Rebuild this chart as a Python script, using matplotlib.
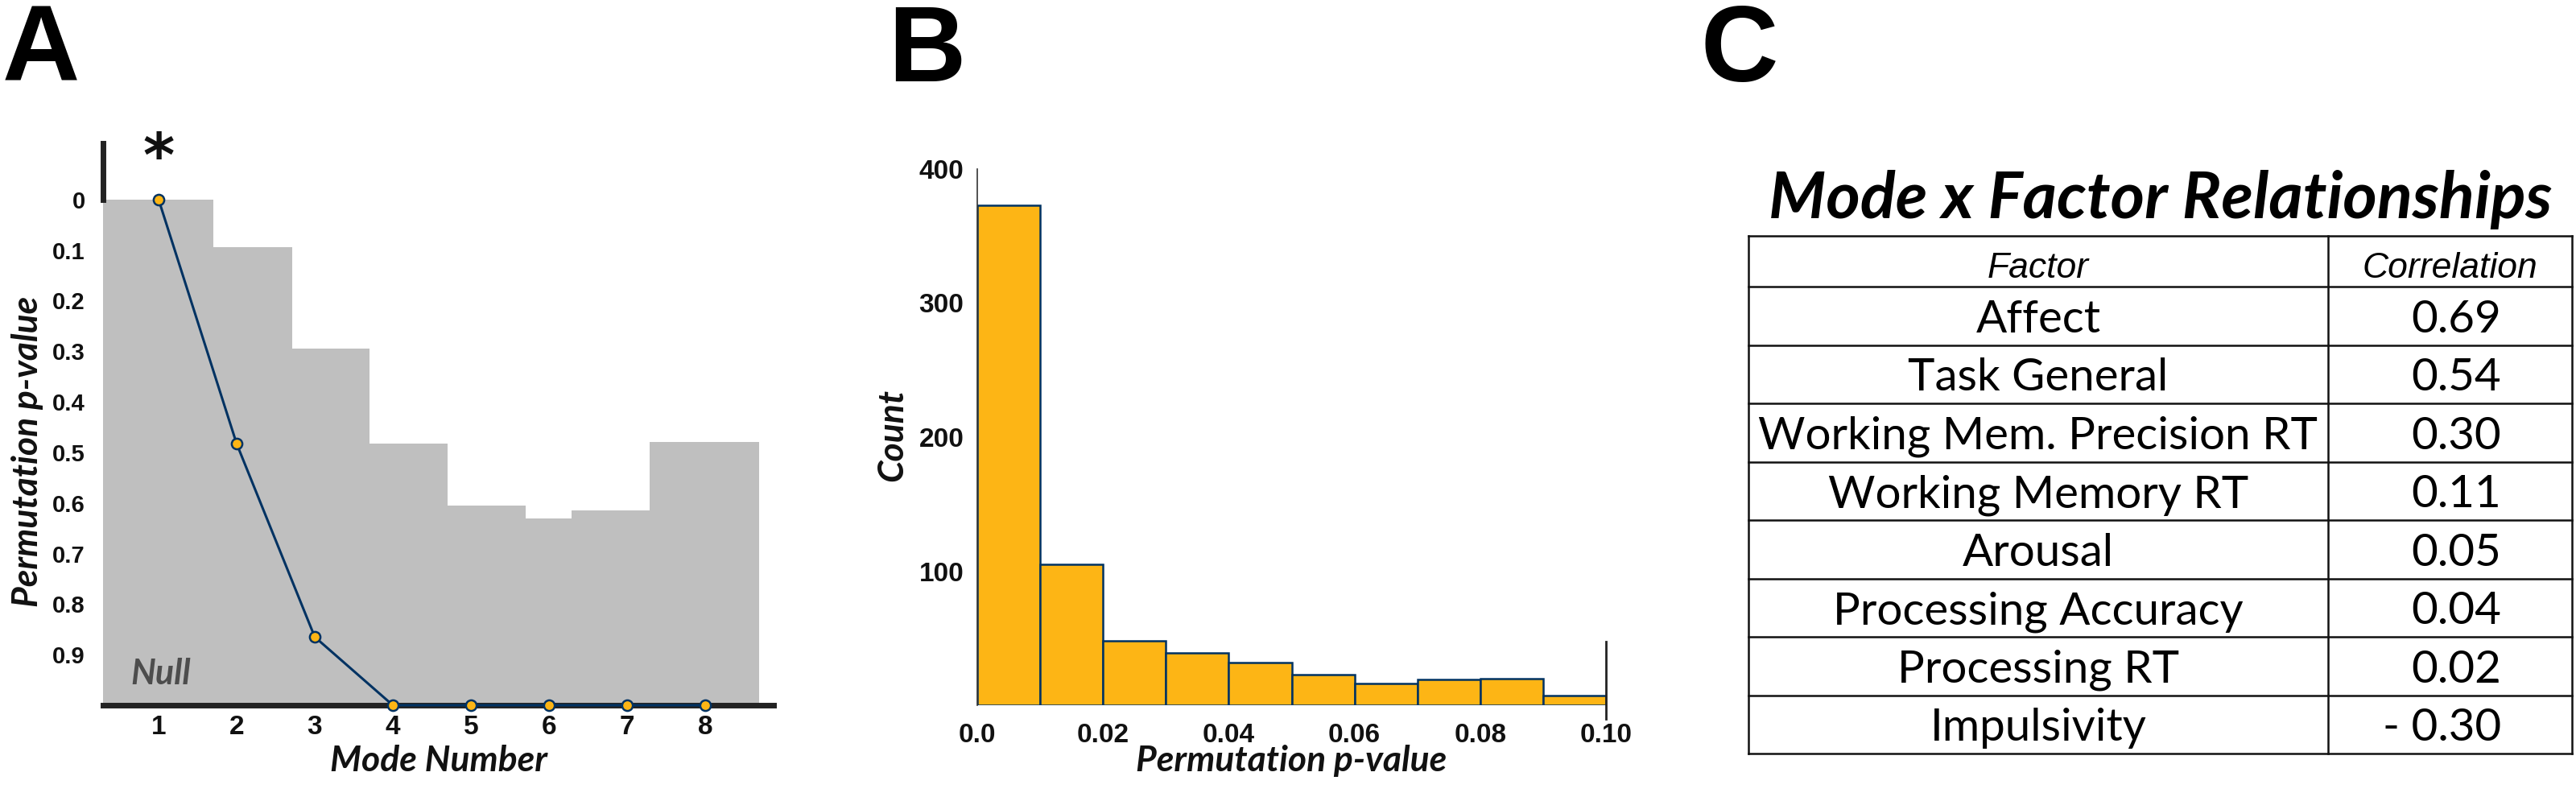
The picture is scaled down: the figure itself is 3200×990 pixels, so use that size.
import numpy as np
import matplotlib
matplotlib.use("Agg")
import matplotlib.pyplot as plt
from matplotlib import font_manager as fm

# ---------------- data ----------------
modes = [1, 2, 3, 4, 5, 6, 7, 8]
mode_pvalues = [0.0, 0.483, 0.865, 1.0, 1.0, 1.0, 1.0, 1.0]
null_edges = [0.29, 1.70, 2.71, 3.70, 4.70, 5.70, 6.29, 7.29, 8.69]
null_pvalues = [0.0, 0.094, 0.295, 0.482, 0.605, 0.631, 0.615, 0.479]
a_yticks = [0, 0.1, 0.2, 0.3, 0.4, 0.5, 0.6, 0.7, 0.8, 0.9]
a_yticklabels = ["0", "0.1", "0.2", "0.3", "0.4", "0.5", "0.6", "0.7", "0.8", "0.9"]

hist_edges = [0.00, 0.01, 0.02, 0.03, 0.04, 0.05, 0.06, 0.07, 0.08, 0.09, 0.10]
hist_counts = [373, 105, 48, 39, 32, 23, 16, 19, 20, 7]
b_xticks = [0.0, 0.02, 0.04, 0.06, 0.08, 0.10]
b_xticklabels = ["0.0", "0.02", "0.04", "0.06", "0.08", "0.10"]
b_yticks = [100, 200, 300, 400]
b_yticklabels = ["100", "200", "300", "400"]

table_title = "Mode x Factor Relationships"
table_header = ["Factor", "Correlation"]
factors = ["Affect", "Task General", "Working Mem. Precision RT", "Working Memory RT",
           "Arousal", "Processing Accuracy", "Processing RT", "Impulsivity"]
correlations = ["0.69", "0.54", "0.30", "0.11", "0.05", "0.04", "0.02", "- 0.30"]

# ---------------- style ----------------
GOLD = "#FDB515"
NAVY = "#003262"
GRAY = "#BFBFBF"
DARK = "#222222"

names = {f.name for f in fm.fontManager.ttflist}
COND = "Liberation Sans Narrow" if "Liberation Sans Narrow" in names else "Liberation Sans"
HUM = "Lato" if "Lato" in names else "DejaVu Sans"

W, H = 3200, 990
fig = plt.figure(figsize=(W / 100, H / 100), dpi=100)
renderer = fig.canvas.get_renderer()


def fx(x):
    return x / W


def fy(y):
    return 1 - y / H


def fit(t, target, dim="w"):
    bb = t.get_window_extent(renderer=renderer)
    cur = bb.width if dim == "w" else bb.height
    t.set_fontsize(t.get_fontsize() * target / cur)
    return t.get_fontsize()


TICK_SIZE = 24

# ---------------- panel A ----------------
axA = fig.add_axes([fx(128), fy(876), fx(961) - fx(128), fy(178) - fy(876)])
axA.stairs(null_pvalues, null_edges, baseline=1.0, fill=True, color=GRAY, zorder=1)
axA.plot(modes, mode_pvalues, color=NAVY, lw=2.2, marker="o", ms=9.5,
         mfc=GOLD, mec=NAVY, mew=1.8, zorder=5, clip_on=False)
axA.set_xlim(0.289, 8.876)
axA.set_ylim(1.0, -0.111)
axA.set_yticks(a_yticks, a_yticklabels)
axA.set_xticks(modes, [str(m) for m in modes])
for s in ["top", "right"]:
    axA.spines[s].set_visible(False)
axA.spines["left"].set_bounds(-0.111, 0)
axA.spines["left"].set_linewidth(5)
axA.spines["left"].set_color(DARK)
axA.spines["bottom"].set_linewidth(5)
axA.spines["bottom"].set_color(DARK)
axA.tick_params(axis="y", length=0, pad=16)
axA.tick_params(axis="x", length=0, pad=9)
for lab in axA.get_yticklabels():
    lab.set_fontfamily(COND)
    lab.set_fontweight("bold")
    lab.set_fontsize(21)
    lab.set_color("#111111")
for lab in axA.get_xticklabels():
    lab.set_fontfamily(COND)
    lab.set_fontweight("bold")
    lab.set_fontsize(TICK_SIZE)
    lab.set_color("#111111")
axA.text(1, -0.078, "*", ha="center", va="center", fontsize=54, fontweight="bold",
         family="DejaVu Sans", color="#111111")
axA.text(0.64, 0.959, "Null", ha="left", va="baseline", fontsize=31, fontweight="bold",
         fontstyle="italic", family=HUM, color="#4D4D4D")

ylabA = fig.text(fx(34), fy(561), "Permutation p-value", rotation=90, ha="center", va="center",
                 fontsize=28, fontweight="bold", fontstyle="italic", family=HUM, color="#111111")
label_size = fit(ylabA, 386, "h")
fig.text(fx(545), fy(945), "Mode Number", ha="center", va="center", fontsize=label_size,
         fontweight="bold", fontstyle="italic", family=HUM, color="#111111")

# ---------------- panel B ----------------
axB = fig.add_axes([fx(1214), fy(876), fx(1995) - fx(1214), fy(210) - fy(876)])
axB.bar(hist_edges[:-1], hist_counts, width=np.diff(hist_edges), align="edge",
        color=GOLD, edgecolor=NAVY, linewidth=1.8, zorder=2)
axB.set_xlim(hist_edges[0], hist_edges[-1])
axB.set_ylim(0, 400)
axB.set_xticks(b_xticks, b_xticklabels)
axB.set_yticks(b_yticks, b_yticklabels)
axB.spines["top"].set_visible(False)
axB.spines["bottom"].set_visible(False)
axB.spines["left"].set_linewidth(1.2)
axB.spines["left"].set_color("#333333")
axB.spines["right"].set_bounds(-10.2, 47.4)
axB.spines["right"].set_linewidth(2)
axB.spines["right"].set_color(DARK)
axB.tick_params(axis="y", length=0, pad=12)
axB.tick_params(axis="x", length=0, pad=16)
for lab in axB.get_yticklabels() + axB.get_xticklabels():
    lab.set_fontfamily(COND)
    lab.set_fontweight("bold")
    lab.set_fontsize(TICK_SIZE)
    lab.set_color("#111111")

fig.text(fx(1108), fy(540), "Count", rotation=90, ha="center", va="center", fontsize=label_size,
         fontweight="bold", fontstyle="italic", family=HUM, color="#111111")
fig.text(fx(1604), fy(945), "Permutation p-value", ha="center", va="center", fontsize=label_size,
         fontweight="bold", fontstyle="italic", family=HUM, color="#111111")

# ---------------- panel letters ----------------
for letter, x in zip(["A", "B", "C"], [3, 1103, 2113]):
    fig.text(fx(x), fy(101), letter, ha="left", va="baseline", fontsize=96,
             fontweight="bold", family=COND, color="black")

# ---------------- panel C (table) ----------------
axC = fig.add_axes([0, 0, 1, 1], zorder=-5)
axC.set_xlim(0, W)
axC.set_ylim(H, 0)
axC.axis("off")

tx0, tx1, tdiv = 2172, 3195, 2892
ty0, thead = 293, 356
row_h = (936 - thead) / len(factors)
row_lines = [ty0, thead] + [thead + row_h * (i + 1) for i in range(len(factors))]
lw_tab = 1.8
for y in row_lines:
    axC.plot([tx0, tx1], [y, y], color="#111111", lw=lw_tab, solid_capstyle="projecting")
for x in [tx0, tdiv, tx1]:
    axC.plot([x, x], [ty0, row_lines[-1]], color="#111111", lw=lw_tab, solid_capstyle="projecting")

title = axC.text((tx0 + tx1) / 2, 271, table_title, ha="center", va="baseline", fontsize=50,
                 fontweight="bold", fontstyle="italic", family=HUM, color="black")
fit(title, 975)

hsize = 32
axC.text((tdiv + tx1) / 2, 345, table_header[1], ha="center", va="baseline", fontsize=hsize,
         fontstyle="italic", family=COND, color="black")
axC.text((tx0 + tdiv) / 2, 345, table_header[0], ha="center", va="baseline", fontsize=hsize,
         fontstyle="italic", family=COND, color="black")

ref = axC.text((tx0 + tdiv) / 2, 0, factors[2], ha="center", va="baseline", fontsize=38,
               family=HUM, color="black")
bsize = fit(ref, 695)
ref.remove()
cap = 0.72 * bsize * 100 / 72
for i, (f, c) in enumerate(zip(factors, correlations)):
    yc = thead + row_h * (i + 0.5)
    axC.text((tx0 + tdiv) / 2, yc + cap / 2, f, ha="center", va="baseline", fontsize=bsize,
             family=HUM, color="black")
    axC.text(3107, yc + cap / 2, c, ha="right", va="baseline", fontsize=bsize,
             family=HUM, color="black")

fig.savefig("out.png", dpi=100)
